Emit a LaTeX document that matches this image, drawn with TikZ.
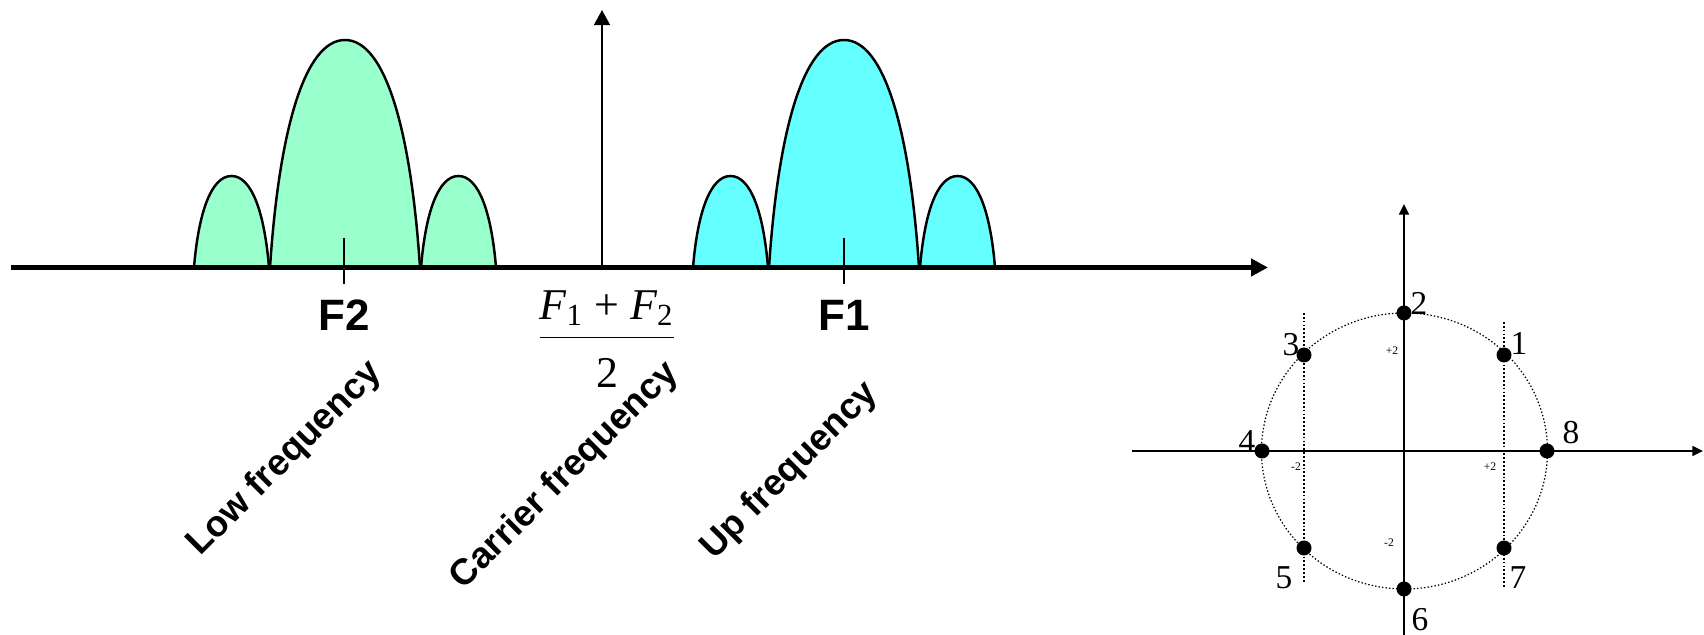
\documentclass[tikz,border=0pt]{standalone}
\usepackage{fontspec}
\setmainfont{Liberation Serif}
\setsansfont{Liberation Sans}
\usetikzlibrary{arrows.meta}

\definecolor{lobegreen}{RGB}{153,255,204}
\definecolor{lobecyan}{RGB}{102,255,255}

% one spectral lobe standing on the frequency axis
\newcommand{\lobe}[4]{%
\pgfmathsetmacro{\lw}{#2-#1}%
\pgfmathsetmacro{\lm}{(#1+#2)/2}%
\filldraw [lobe, fill=#4] (#1,367.5)
.. controls (#1+0.06*\lw,367.5+0.6*#3) and (\lm-0.27*\lw,367.5+#3) .. (\lm,367.5+#3)
.. controls (\lm+0.27*\lw,367.5+#3) and (#2-0.06*\lw,367.5+0.6*#3) .. (#2,367.5);
}

\begin{document}
\begin{tikzpicture}[
x=0.1mm, y=0.1mm,
every node/.style={
inner sep=0pt
},
arrow/.style={line width=1.7pt, -{Triangle[length=4.8pt,width=4.8pt]}}
]

% =====================================================
% Styles
% =====================================================

\tikzstyle{lobe} =
[line width=0.7pt]

\tikzstyle{carrier} =
[line width=0.65pt,
-{Triangle[length=4.3pt,width=4.5pt]}]

\tikzstyle{tickmark} =
[line width=0.7pt]

\tikzstyle{freqlabel} =
[font=\sffamily\bfseries\fontsize{12.5}{15}\selectfont]

\tikzstyle{bandlabel} =
[font=\sffamily\bfseries\fontsize{10.4}{12}\selectfont,
rotate=45]

\tikzstyle{plane} =
[line width=0.6pt,
-{Triangle[length=3pt,width=2.8pt]}]

\tikzstyle{ring} =
[line width=0.35pt,
dash pattern=on 0.4pt off 0.6pt]

\tikzstyle{guide} =
[line width=0.45pt,
dash pattern=on 0.5pt off 0.6pt]

\tikzstyle{pointdot} =
[circle, fill=black,
minimum size=1.5mm]

\tikzstyle{numlabel} =
[font=\fontsize{9.5}{11}\selectfont]

\tikzstyle{smalllabel} =
[font=\fontsize{3.3}{4}\selectfont]

\useasboundingbox (0,0) rectangle (1704,635);

% =====================================================
% Spectrum
% =====================================================

\lobe{194}{269}{91.5}{lobegreen}
\lobe{270}{420}{227.5}{lobegreen}
\lobe{421}{496}{91.5}{lobegreen}

\lobe{693}{768}{91.5}{lobecyan}
\lobe{769}{919}{227.5}{lobecyan}
\lobe{920}{995}{91.5}{lobecyan}

\coordinate (axisL) at (11,367.5);
\coordinate (axisR) at (1268,367.5);
\coordinate (carrierB) at (602,367.5);
\coordinate (carrierT) at (602,625);
\coordinate (tickF2a) at (344,397);
\coordinate (tickF2b) at (344,351);
\coordinate (tickF1a) at (844,397);
\coordinate (tickF1b) at (844,351);

\node (f2) [freqlabel] at (344,320)
{F2};

\node (f1) [freqlabel] at (844,320)
{F1};

\node (carrierfrac) [anchor=base, font=\fontsize{12.5}{15}\selectfont] at (607,287)
{$\displaystyle\frac{\hbox{\itshape F\textsubscript{\upshape 1}\upshape{} + \itshape F\textsubscript{\upshape 2}}}{\hbox{\rule{0pt}{12.8pt}2}}$};

\node (lowlbl) [bandlabel] at (285,176)
{Low frequency};

\node (carrierlbl) [bandlabel] at (565,159)
{Carrier frequency};

\node (uplbl) [bandlabel] at (790,164)
{Up frequency};

% =====================================================
% Constellation
% =====================================================

\coordinate (origin) at (1404.5,184);
\coordinate (reL) at (1132,184);
\coordinate (reR) at (1703,184);
\coordinate (imB) at (1404,0);
\coordinate (imT) at (1404,431);
\coordinate (guideLt) at (1304,322);
\coordinate (guideLb) at (1304,53);
\coordinate (guideRt) at (1504,313);
\coordinate (guideRb) at (1504,47);

\draw [ring] (origin) ellipse [x radius=143, y radius=138];

\draw [guide] (guideLt) -- (guideLb);

\draw [guide] (guideRt) -- (guideRb);

\draw [plane] (reL) -- (reR);

\draw [plane] (imB) -- (imT);

\node (p1) [pointdot] at (1504,280) {};
\node (p2) [pointdot] at (1404,322) {};
\node (p3) [pointdot] at (1304,280) {};
\node (p4) [pointdot] at (1262,184) {};
\node (p5) [pointdot] at (1304,87) {};
\node (p6) [pointdot] at (1404,46) {};
\node (p7) [pointdot] at (1504,87) {};
\node (p8) [pointdot] at (1547,184) {};

\node (n1) [numlabel] at (1519,292) {1};
\node (n2) [numlabel] at (1419,332) {2};
\node (n3) [numlabel] at (1291,290) {3};
\node (n4) [numlabel] at (1247,193) {4};
\node (n5) [numlabel] at (1284,57) {5};
\node (n6) [numlabel] at (1420,15) {6};
\node (n7) [numlabel] at (1518,57) {7};
\node (n8) [numlabel] at (1571,202) {8};

\node (imPos) [smalllabel] at (1392,284) {+2};
\node (reNeg) [smalllabel] at (1296,168) {-2};
\node (rePos) [smalllabel] at (1490,168) {+2};
\node (imNeg) [smalllabel] at (1389,92) {-2};

% =====================================================
% Arrows
% =====================================================

\draw [arrow] (axisL) -- (axisR);

\draw [carrier] (carrierB) -- (carrierT);

\draw [tickmark] (tickF2a) -- (tickF2b);

\draw [tickmark] (tickF1a) -- (tickF1b);

\end{tikzpicture}
\end{document}
